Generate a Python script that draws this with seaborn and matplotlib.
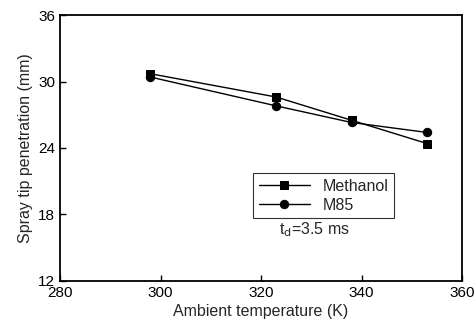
import matplotlib
matplotlib.use("Agg")
import matplotlib.pyplot as plt
import seaborn as sns
import pandas as pd

temps = [298, 323, 338, 353]
methanol = [30.7, 28.6, 26.5, 24.4]
m85 = [30.4, 27.8, 26.3, 25.4]
series_names = ["Methanol", "M85"]
xticks = [280, 300, 320, 340, 360]
yticks = [12, 18, 24, 30, 36]

df = pd.DataFrame({
    "T": temps * 2,
    "pen": methanol + m85,
    "fuel": [series_names[0]] * len(temps) + [series_names[1]] * len(temps),
})

sns.set_style("ticks")
plt.rcParams["font.family"] = ["Liberation Sans", "DejaVu Sans"]

fig = plt.figure(figsize=(4.76, 3.27), dpi=100)
ax = fig.add_axes([0.126, 0.141, 0.845, 0.813])
sns.lineplot(data=df, x="T", y="pen", hue="fuel", style="fuel",
             palette={"Methanol": "black", "M85": "black"},
             markers={"Methanol": "s", "M85": "o"}, dashes=False,
             markersize=6, linewidth=1.0, markeredgecolor="black", ax=ax)

ax.set_xlim(280, 360)
ax.set_ylim(12, 36)
ax.set_xticks(xticks)
ax.set_yticks(yticks)
ax.tick_params(direction="in", labelsize=11, length=4, width=1, colors="black")
for s in ax.spines.values():
    s.set_linewidth(1.3)
    s.set_color("black")
ax.set_xlabel("Ambient temperature (K)", fontsize=11.5, labelpad=3)
ax.set_ylabel("Spray tip penetration (mm)", fontsize=11.5, labelpad=4)

leg = ax.legend(title=None, loc="upper left", bbox_to_anchor=(0.46, 0.435),
                fontsize=11.5, frameon=True, fancybox=False, edgecolor="black",
                handlelength=3.2, borderpad=0.35, labelspacing=0.25)
leg.get_frame().set_linewidth(0.8)
ax.text(0.545, 0.175, r"t$_\mathrm{d}$=3.5 ms", transform=ax.transAxes, fontsize=11.5)

fig.savefig("out.png", dpi=100)
